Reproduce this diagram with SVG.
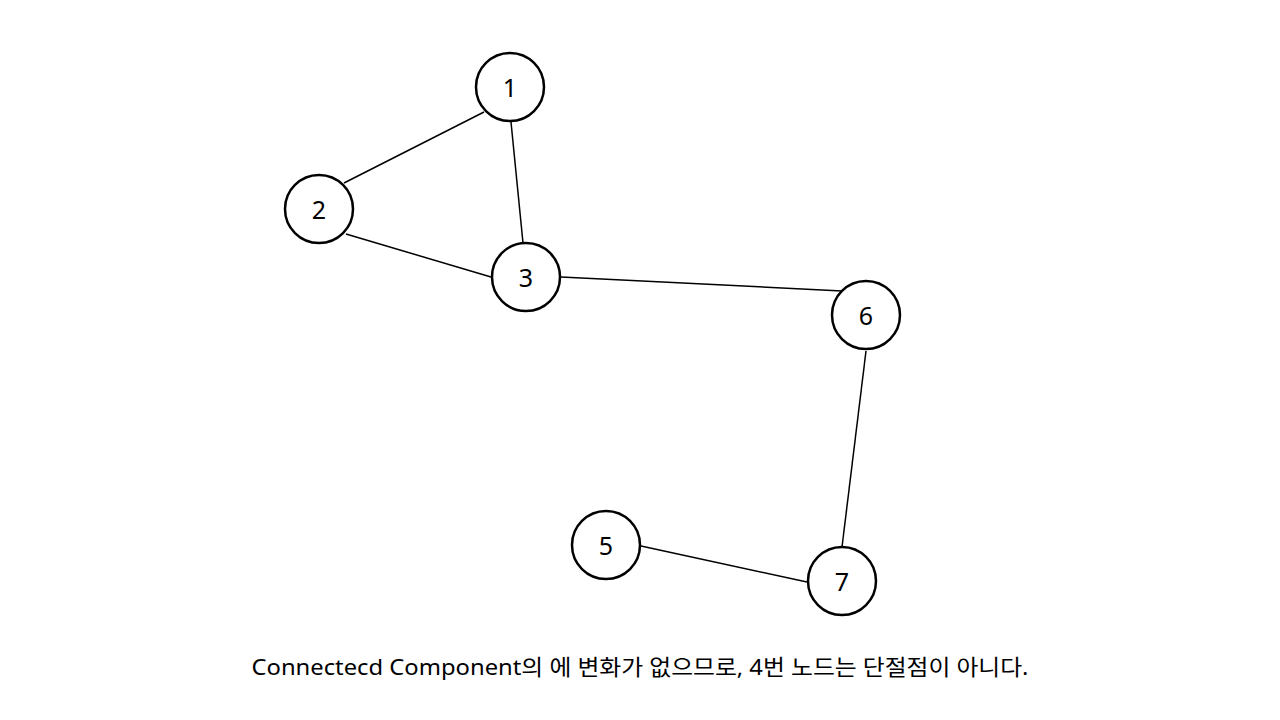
<svg xmlns="http://www.w3.org/2000/svg" width="1280" height="720" viewBox="0 0 1280 720">
<style>
.n circle{fill:#fff;stroke:#000;stroke-width:2.5}
.n text{font-family:"Noto Sans","Noto Sans CJK KR",sans-serif;font-size:25px;text-anchor:middle;dominant-baseline:central;fill:#000}
#edges line{stroke:#000;stroke-width:1.5}
.cap{font-family:"Noto Sans","Noto Sans CJK KR",sans-serif;font-size:22px;text-anchor:middle;fill:#000}
</style>
<rect width="1280" height="720" fill="#fff"/>
<g id="edges">
<line x1="484" y1="112" x2="344" y2="183"/>
<line x1="511" y1="122" x2="523" y2="243"/>
<line x1="346" y1="234" x2="491" y2="277"/>
<line x1="561" y1="277" x2="842" y2="291"/>
<line x1="866" y1="351" x2="842" y2="547"/>
<line x1="641" y1="546" x2="807" y2="582"/>
</g>
<g id="node1" class="n"><circle cx="510" cy="87" r="34"/><text x="510" y="87">1</text></g>
<g id="node2" class="n"><circle cx="319" cy="209" r="34"/><text x="319" y="209">2</text></g>
<g id="node3" class="n"><circle cx="526" cy="277" r="34"/><text x="526" y="277">3</text></g>
<g id="node6" class="n"><circle cx="866" cy="315" r="34"/><text x="866" y="315">6</text></g>
<g id="node5" class="n"><circle cx="606" cy="545" r="34"/><text x="606" y="545">5</text></g>
<g id="node7" class="n"><circle cx="842" cy="581" r="34"/><text x="842" y="581">7</text></g>
<text class="cap" x="640" y="675" textLength="777" lengthAdjust="spacingAndGlyphs">Connectecd Component의 에 변화가 없으므로, 4번 노드는 단절점이 아니다.</text>
</svg>
